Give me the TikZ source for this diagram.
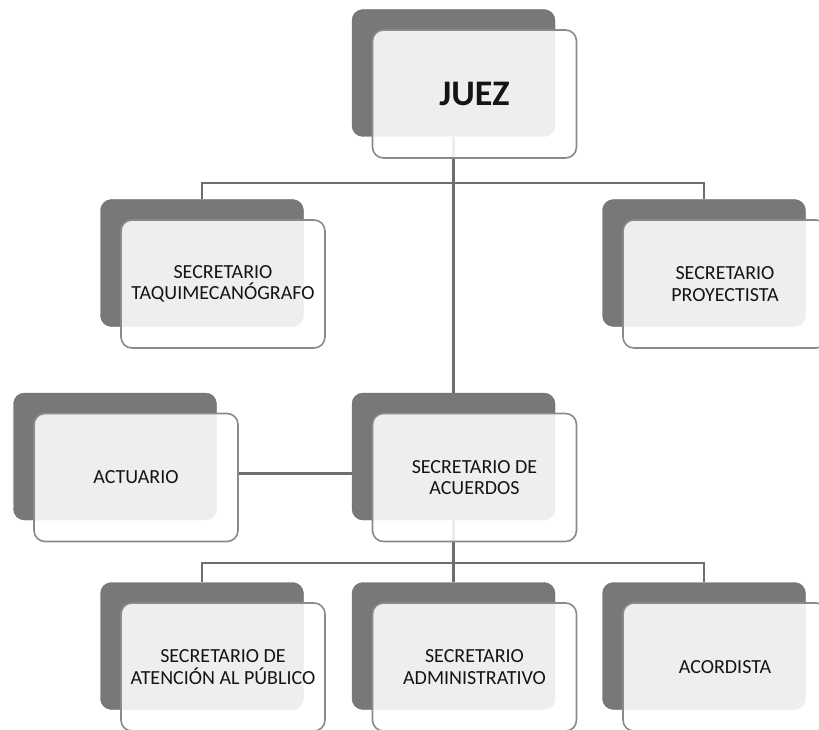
\documentclass[tikz,border=0pt]{standalone}
\usepackage{fontspec}
\setmainfont{Carlito}
\usetikzlibrary{backgrounds}
\definecolor{oscuro}{HTML}{787878}
\definecolor{borde}{HTML}{8A8A8A}
\definecolor{linea}{HTML}{6E6E6E}

\begin{document}
\begin{tikzpicture}[x=1pt,y=-1pt,
  fondo/.style={draw=oscuro!90!black, fill=oscuro, rounded corners=11pt, minimum width=203pt, minimum height=127pt, inner sep=0pt},
  frente/.style={draw=borde, line width=1.6pt, fill=white, fill opacity=0.88, text opacity=1, rounded corners=11pt, minimum width=204pt, minimum height=128pt, inner sep=0pt, align=center, text=black!92, font=\fontsize{20}{21.5}\selectfont},
  conector/.style={draw=linea, line width=2.2pt}]
	\clip (0,0) rectangle (819,730);

	% juez
	\node[fondo] (juezB) at (453.5,73) {};
	\node[frente, font=\bfseries\fontsize{36}{40}\selectfont] (juezF) at ([shift={(21,21)}]juezB.center) {JUEZ};

	% primer nivel
	\node[fondo] (taquiB) at (202,263) {};
	\node[frente] (taquiF) at ([shift={(21,21)}]taquiB.center) {SECRETARIO\\TAQUIMECANÓGRAFO};
	\node[fondo] (proyB) at (704,263) {};
	\node[frente] (proyF) at ([shift={(21,21)}]proyB.center) {SECRETARIO\\PROYECTISTA};

	% segundo nivel
	\node[fondo] (actB) at (115,456.5) {};
	\node[frente] (actF) at ([shift={(21,21)}]actB.center) {ACTUARIO};
	\node[fondo] (acuB) at (453.5,456.5) {};
	\node[frente] (acuF) at ([shift={(21,21)}]acuB.center) {SECRETARIO DE\\ACUERDOS};

	% tercer nivel
	\node[fondo] (atenB) at (202,646) {};
	\node[frente] (atenF) at ([shift={(21,21)}]atenB.center) {SECRETARIO DE\\ATENCIÓN AL PÚBLICO};
	\node[fondo] (adminB) at (453.5,646) {};
	\node[frente] (adminF) at ([shift={(21,21)}]adminB.center) {SECRETARIO\\ADMINISTRATIVO};
	\node[fondo] (acorB) at (704,646) {};
	\node[frente] (acorF) at ([shift={(21,21)}]acorB.center) {ACORDISTA};

	\begin{scope}[on background layer]
		\draw[conector] (juezB.south) -- (acuB.north);
		\draw[conector] (taquiB.north) -- ++(0,-16) -| (proyB.north);
		\draw[conector] ([yshift=4pt]actF.east) -- ([yshift=4pt]actF.east -| acuB.west);
		\draw[conector] (acuB.south) -- (adminB.north);
		\draw[conector] (atenB.north) -- ++(0,-19) -| (acorB.north);
	\end{scope}
\end{tikzpicture}
\end{document}
